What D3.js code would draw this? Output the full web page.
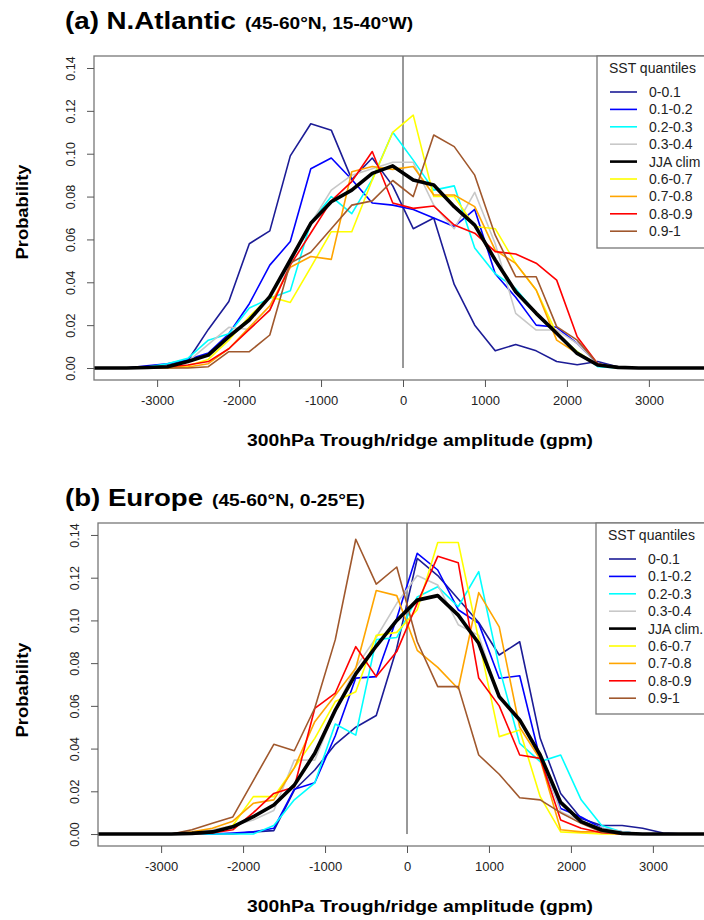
<!DOCTYPE html>
<html>
<head>
<meta charset="utf-8">
<script src="https://d3js.org/d3.v7.min.js"></script>
<style>
  body { margin: 0; background: #fff; }
  svg { display: block; font-family: "Liberation Sans", Arial, sans-serif; }
</style>
</head>
<body>
<svg id="chart" width="704" height="920"></svg>
<script>
// bin centres of 300hPa trough/ridge amplitude (gpm)
var amp = [-3875, -3625, -3375, -3125, -2875, -2625, -2375, -2125, -1875, -1625, -1375,
           -1125, -875, -625, -375, -125, 125, 375, 625, 875, 1125,
           1375, 1625, 1875, 2125, 2375, 2625, 2875, 3125, 3375, 3625, 3875];

var xTicks = [-3000, -2000, -1000, 0, 1000, 2000, 3000];
var yTicks = [0, 0.02, 0.04, 0.06, 0.08, 0.10, 0.12, 0.14];

var labelsA = ["0-0.1", "0.1-0.2", "0.2-0.3", "0.3-0.4", "JJA clim", "0.6-0.7", "0.7-0.8", "0.8-0.9", "0.9-1"];
var labelsB = ["0-0.1", "0.1-0.2", "0.2-0.3", "0.3-0.4", "JJA clim.", "0.6-0.7", "0.7-0.8", "0.8-0.9", "0.9-1"];
var colors = ["#1c1c96", "#0000ff", "#00ffff", "#c8c8c8", "#000000", "#ffff00", "#ffa500", "#ff0000", "#a0582d"];

// (a) N.Atlantic
var atl_q1 = [0, 0, 0, 0.0005, 0.0015, 0.0035, 0.018, 0.031, 0.058, 0.064, 0.099, 0.114, 0.111, 0.088, 0.098, 0.085, 0.065, 0.070, 0.039, 0.020, 0.008, 0.011, 0.008, 0.003, 0.0015, 0.003, 0.0005, 0, 0, 0, 0, 0];
var atl_q2 = [0, 0, 0, 0.001, 0.002, 0.004, 0.007, 0.016, 0.030, 0.048, 0.059, 0.093, 0.098, 0.088, 0.077, 0.076, 0.074, 0.070, 0.066, 0.074, 0.044, 0.033, 0.020, 0.019, 0.0115, 0.002, 0.0005, 0, 0, 0, 0, 0];
var atl_q3 = [0, 0, 0, 0.0005, 0.002, 0.0045, 0.013, 0.016, 0.028, 0.0325, 0.036, 0.068, 0.080, 0.072, 0.088, 0.110, 0.097, 0.083, 0.085, 0.056, 0.044, 0.037, 0.0255, 0.016, 0.0076, 0.0006, 0, 0, 0, 0, 0, 0];
var atl_q4 = [0, 0, 0, 0, 0.001, 0.003, 0.011, 0.019, 0.018, 0.027, 0.049, 0.0675, 0.083, 0.090, 0.093, 0.096, 0.096, 0.076, 0.065, 0.082, 0.058, 0.0255, 0.0177, 0.0177, 0.0115, 0.002, 0.0005, 0, 0, 0, 0, 0];
var atl_clim = [0, 0, 0, 0.0002, 0.0006, 0.003, 0.006, 0.0146, 0.0224, 0.0333, 0.0504, 0.0675, 0.0776, 0.083, 0.0908, 0.0943, 0.0877, 0.0854, 0.0753, 0.0667, 0.0504, 0.0356, 0.0255, 0.0162, 0.0068, 0.0014, 0.0003, 0, 0, 0, 0, 0];
var atl_q7 = [0, 0, 0, 0, 0, 0.001, 0.004, 0.013, 0.024, 0.0333, 0.0306, 0.047, 0.0636, 0.0636, 0.0877, 0.110, 0.118, 0.080, 0.080, 0.066, 0.065, 0.0488, 0.0364, 0.016, 0.0076, 0.0014, 0, 0, 0, 0, 0, 0];
var atl_q8 = [0, 0, 0, 0, 0, 0.0005, 0.002, 0.009, 0.019, 0.029, 0.047, 0.052, 0.0507, 0.0916, 0.094, 0.0927, 0.094, 0.0807, 0.0807, 0.0753, 0.055, 0.0488, 0.0364, 0.013, 0.0068, 0.0014, 0, 0, 0, 0, 0, 0];
var atl_q9 = [0, 0, 0, 0, 0.0005, 0.0014, 0.003, 0.009, 0.018, 0.027, 0.048, 0.063, 0.078, 0.087, 0.101, 0.077, 0.0745, 0.0756, 0.0667, 0.0629, 0.0543, 0.0532, 0.0489, 0.041, 0.0146, 0.002, 0, 0, 0, 0, 0, 0];
var atl_q10 = [0, 0, 0, 0, 0, 0, 0.0006, 0.0076, 0.0076, 0.0154, 0.049, 0.054, 0.065, 0.076, 0.078, 0.0875, 0.080, 0.1087, 0.1033, 0.090, 0.062, 0.0426, 0.0426, 0.0193, 0.013, 0.002, 0, 0, 0, 0, 0, 0];

// (b) Europe
var eur_q1 = [0, 0, 0, 0, 0, 0, 0, 0, 0.001, 0.0016, 0.0206, 0.030, 0.042, 0.050, 0.0555, 0.087, 0.129, 0.121, 0.110, 0.099, 0.0838, 0.090, 0.0448, 0.019, 0.0073, 0.004, 0.004, 0.0027, 0.0005, 0, 0, 0];
var eur_q2 = [0, 0, 0, 0, 0, 0, 0, 0.0005, 0.001, 0.0027, 0.021, 0.024, 0.046, 0.073, 0.0737, 0.101, 0.1314, 0.1236, 0.105, 0.0986, 0.0729, 0.0741, 0.035, 0.012, 0.008, 0.0027, 0.001, 0, 0, 0, 0, 0];
var eur_q3 = [0, 0, 0, 0, 0, 0, 0, 0, 0, 0.004, 0.016, 0.024, 0.0515, 0.0463, 0.091, 0.092, 0.111, 0.1158, 0.1064, 0.1228, 0.078, 0.0424, 0.0339, 0.037, 0.016, 0.004, 0.001, 0, 0, 0, 0, 0];
var eur_q4 = [0, 0, 0, 0, 0, 0.0003, 0.002, 0.004, 0.0066, 0.011, 0.0346, 0.0346, 0.058, 0.078, 0.092, 0.108, 0.121, 0.1166, 0.098, 0.093, 0.0635, 0.0527, 0.037, 0.0105, 0.006, 0.0027, 0.001, 0, 0, 0, 0, 0];
var eur_clim = [0, 0, 0, 0, 0, 0.0003, 0.001, 0.0034, 0.0081, 0.0136, 0.0229, 0.0378, 0.058, 0.075, 0.088, 0.100, 0.1095, 0.1116, 0.1025, 0.0893, 0.0643, 0.0534, 0.037, 0.0148, 0.0058, 0.0019, 0.0003, 0, 0, 0, 0, 0];
var eur_q7 = [0, 0, 0, 0, 0, 0, 0.001, 0.004, 0.0175, 0.0175, 0.031, 0.0448, 0.062, 0.0666, 0.093, 0.0944, 0.105, 0.1365, 0.1365, 0.091, 0.0456, 0.0487, 0.0175, 0.001, 0.0005, 0, 0, 0, 0, 0, 0, 0];
var eur_q8 = [0, 0, 0, 0, 0, 0.001, 0.0027, 0.006, 0.0144, 0.016, 0.031, 0.0526, 0.065, 0.0776, 0.114, 0.1116, 0.086, 0.078, 0.068, 0.113, 0.097, 0.050, 0.035, 0.002, 0.001, 0.001, 0.0003, 0, 0, 0, 0, 0];
var eur_q9 = [0, 0, 0, 0, 0, 0, 0.0005, 0.002, 0.010, 0.019, 0.022, 0.0588, 0.066, 0.0877, 0.0737, 0.0854, 0.108, 0.130, 0.127, 0.073, 0.060, 0.037, 0.0354, 0.0066, 0.0027, 0.0006, 0, 0, 0, 0, 0, 0];
var eur_q10 = [0, 0, 0, 0, 0, 0.002, 0.005, 0.008, 0.025, 0.042, 0.039, 0.059, 0.091, 0.138, 0.117, 0.125, 0.090, 0.069, 0.069, 0.037, 0.028, 0.017, 0.016, 0.010, 0.005, 0.001, 0, 0, 0, 0, 0, 0];

var svg = d3.select("#chart");

function panel(p) {
  var x = d3.scaleLinear().domain([-3770, 3770]).range([p.left, p.left + 618]);
  var y = d3.scaleLinear().domain([-0.0056, 0.1456]).range([p.bottom, p.top]);
  var g = svg.append("g");

  g.append("clipPath").attr("id", p.id + "clip")
    .append("rect").attr("x", p.left).attr("y", p.top).attr("width", 704 - p.left).attr("height", p.bottom - p.top);

  // zero line
  g.append("line")
    .attr("x1", x(0)).attr("x2", x(0)).attr("y1", y(0)).attr("y2", p.top)
    .attr("stroke", "#333").attr("stroke-width", 1);

  var line = d3.line().x(function(d, i) { return x(amp[i]); }).y(function(d) { return y(d); });
  var lines = g.append("g").attr("clip-path", "url(#" + p.id + "clip)");
  var order = [0, 1, 2, 3, 5, 6, 7, 8, 4];   // climatology on top
  order.forEach(function(k) {
    lines.append("path").datum(p.series[k])
      .attr("d", line)
      .attr("fill", "none")
      .attr("stroke", colors[k])
      .attr("stroke-width", k == 4 ? 3.6 : 1.6)
      .attr("stroke-linejoin", "round");
  });

  // frame
  g.append("rect")
    .attr("x", p.left).attr("y", p.top).attr("width", 720 - p.left).attr("height", p.bottom - p.top)
    .attr("fill", "none").attr("stroke", "#777").attr("stroke-width", 1.3);

  // x axis (plain hyphen for negatives, as in R)
  var xa = g.append("g").attr("transform", "translate(0," + p.bottom + ")")
    .call(d3.axisBottom(x).tickValues(xTicks).tickSize(7).tickPadding(9).tickFormat(function(d) { return String(d); }));
  xa.select(".domain").remove();
  xa.selectAll("line").attr("stroke", "#555");
  xa.selectAll("text").attr("font-size", 13).attr("fill", "#222").attr("font-family", "Liberation Sans, Arial, sans-serif");

  // y axis, labels turned like R
  var ya = g.append("g").attr("transform", "translate(" + p.left + ",0)")
    .call(d3.axisLeft(y).tickValues(yTicks).tickSize(7).tickFormat(d3.format(".2f")));
  ya.select(".domain").remove();
  ya.selectAll("line").attr("stroke", "#555");
  ya.selectAll("text")
    .attr("x", null).attr("dy", null)
    .attr("font-size", 12.5).attr("fill", "#222").attr("font-family", "Liberation Sans, Arial, sans-serif")
    .attr("text-anchor", "middle")
    .attr("transform", "translate(-19,0) rotate(-90)");

  // titles
  g.append("text").attr("x", 65).attr("y", p.titleY)
    .attr("font-size", 24).attr("font-weight", "bold")
    .attr("textLength", p.titleLen).attr("lengthAdjust", "spacingAndGlyphs")
    .text(p.title);
  g.append("text").attr("x", p.subX).attr("y", p.titleY)
    .attr("font-size", 16).attr("font-weight", "bold")
    .attr("textLength", p.subLen).attr("lengthAdjust", "spacingAndGlyphs")
    .text(p.sub);

  g.append("text").attr("x", 247).attr("y", p.bottom + 66)
    .attr("font-size", 16).attr("font-weight", "bold")
    .attr("textLength", 346).attr("lengthAdjust", "spacingAndGlyphs")
    .text("300hPa Trough/ridge amplitude (gpm)");

  g.append("text")
    .attr("transform", "translate(28," + p.ylabY + ") rotate(-90)")
    .attr("text-anchor", "middle")
    .attr("font-size", 16).attr("font-weight", "bold")
    .attr("textLength", 95).attr("lengthAdjust", "spacingAndGlyphs")
    .text("Probability");

  // legend
  var lg = g.append("g");
  lg.append("rect").attr("x", p.legX).attr("y", p.top).attr("width", 200).attr("height", p.legH)
    .attr("fill", "#fff").attr("stroke", "#777").attr("stroke-width", 1.3);
  lg.append("text").attr("x", p.legX + 12).attr("y", p.top + 17)
    .attr("font-size", 14).attr("fill", "#222").text("SST quantiles");
  p.labels.forEach(function(lab, i) {
    var yy = p.top + 36 + i * 17.4;
    lg.append("line").attr("x1", p.legX + 13).attr("x2", p.legX + 40).attr("y1", yy).attr("y2", yy)
      .attr("stroke", colors[i]).attr("stroke-width", i == 4 ? 2.6 : 1.6);
    lg.append("text").attr("x", p.legX + 52).attr("y", yy + 5)
      .attr("font-size", 14).attr("fill", "#222").text(lab);
  });
}

panel({
  id: "a", top: 56, bottom: 380, left: 94,
  title: "(a) N.Atlantic", titleLen: 171, sub: "(45-60°N, 15-40°W)", subX: 245, subLen: 168, titleY: 29,
  ylabY: 212, legX: 597, legH: 192, labels: labelsA,
  series: [atl_q1, atl_q2, atl_q3, atl_q4, atl_clim, atl_q7, atl_q8, atl_q9, atl_q10]
});

panel({
  id: "b", top: 523, bottom: 846, left: 98,
  title: "(b) Europe", titleLen: 138, sub: "(45-60°N, 0-25°E)", subX: 212, subLen: 153, titleY: 506,
  ylabY: 690, legX: 596, legH: 191, labels: labelsB,
  series: [eur_q1, eur_q2, eur_q3, eur_q4, eur_clim, eur_q7, eur_q8, eur_q9, eur_q10]
});
</script>
</body>
</html>
